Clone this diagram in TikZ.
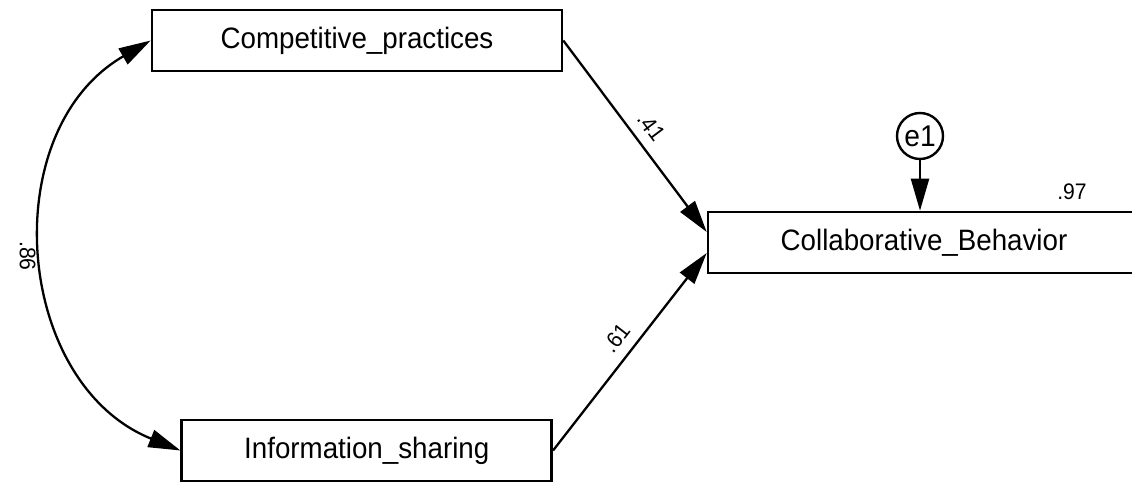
\documentclass[tikz,border=0pt]{standalone}
\usepackage{fontspec}
\setmainfont{Liberation Sans}[FakeStretch=0.94]
\usetikzlibrary{arrows.meta,calc}
\begin{document}
\begin{tikzpicture}[x=1pt,y=1pt,
  varbox/.style={draw, line width=2.6pt, minimum width=#1, minimum height=61pt, inner sep=0pt, font=\fontsize{29.5}{31}\selectfont},
  errc/.style={draw, circle, line width=2.4pt, minimum size=46pt, inner sep=0pt, font=\fontsize{30}{32}\selectfont},
  lbl/.style={inner sep=0pt, outer sep=0pt, font=\fontsize{22.5}{24}\selectfont},
  path/.style={line width=2.3pt, -{Triangle[length=32pt,width=18pt]}},
  cov/.style={line width=2.3pt, {Triangle[length=32pt,width=18pt]}-{Triangle[length=32pt,width=18pt]}}]
\useasboundingbox (0,0) rectangle (1132,482);
\node[varbox=410pt] (cp) at (357,441.5) {Competitive\_practices};
\node[varbox=370pt] (is) at (366.75,31.5) {Information\_sharing};
\node[varbox=432pt] (cb) at (924,239.5) {Collaborative\_Behavior};
\node[errc] (e1) at (920,346) {e1};
\node[lbl] (r2) at (1072,290.7) {.97};
\draw[path] (cp.east) -- node[lbl, sloped, above=11pt, pos=0.51] (l41) {.41} ($(cb.west)+(0,10.5)$);
\draw[path] (is.east) -- node[lbl, sloped, above=11pt, pos=0.51] (l61) {.61} ($(cb.west)+(0,-10.5)$);
\draw[path] (e1.south) -- (e1.south |- cb.north);
\draw[cov] (cp.west) to[out=210, in=158, looseness=1.12] coordinate[pos=0.5] (m) (is.west);
\node[lbl, rotate=-90] (l86) at ($(m)+(-17,-2)$) {.86};
\end{tikzpicture}
\end{document}
